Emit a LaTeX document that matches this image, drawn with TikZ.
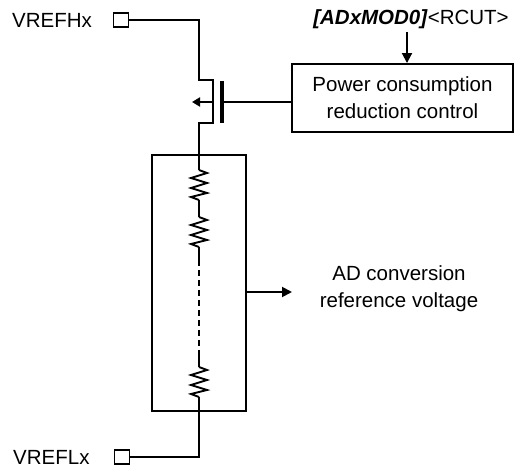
\documentclass[tikz,border=0pt]{standalone}
\usepackage{fontspec}
\setmainfont{Liberation Sans}
\usetikzlibrary{arrows.meta}
\begin{document}
\begin{tikzpicture}[x=1pt,y=-1pt,
  wire/.style={line width=1.9pt},
  lbl/.style={font=\fontsize{20.5}{27}\selectfont, inner sep=0pt, text=black},
  pad/.style={draw, line width=1.6pt, minimum width=15pt, minimum height=14pt, inner sep=0pt},
  blk/.style={draw, line width=1.9pt},
  arr/.style={-{Triangle[length=10pt,width=10pt]}, line width=1.9pt},
  res/.pic={\draw[line width=1.9pt, line join=miter] (0,0) -- (8,3) -- (-8,8) -- (8,13) -- (-8,18) -- (8,23) -- (-8,27) -- (0,30);}]
\useasboundingbox (0,0) rectangle (515,470);

% labels and pads
\node[lbl, anchor=west] (vh) at (12,20) {VREFHx};
\node[pad] (ph) at (121,20) {};
\node[lbl, anchor=west] (vl) at (13,457) {VREFLx};
\node[pad] (pl) at (122,457) {};

% control block
\node[blk, lbl, minimum width=221pt, minimum height=68pt, align=center] (pc) at (402.5,98) {Power consumption\\reduction control};
\node[lbl] (mod) at (411,19) {\textbf{\textit{[ADxMOD0]}}<RCUT>};
\coordinate (a0) at (407,32);
\draw[arr] (a0) -- (a0 |- pc.north);

% resistor ladder block
\node[blk, minimum width=94pt, minimum height=256pt, inner sep=0pt] (rb) at (199,283) {};
\node[lbl, align=center] (adc) at (399,289) {AD conversion\\reference voltage};
\coordinate (ao) at (292,292);
\draw[arr] (rb.east |- ao) -- (ao);

% MOSFET
\coordinate (d0) at (199,80);
\coordinate (d1) at (213,80);
\coordinate (s1) at (213,123);
\coordinate (s0) at (199,123);
\coordinate (ch) at (213,102);
\coordinate (bt) at (192,102);
\coordinate (g0) at (224,102);
\draw[wire] (ph.east) -| (d0) -- (d1) -- (s1) -- (s0) -- (199,170);
\draw[line width=3.4pt] (222,81) -- (222,123);
\draw[wire] (g0) -- (g0 -| pc.west);
\draw[-{Triangle[length=8pt,width=9pt]}, line width=1.9pt] (ch) -- (bt);

% resistors
\pic at (199,170) {res};
\draw[wire] (199,200) -- (199,217);
\pic at (199,217) {res};
\draw[wire] (199,247) -- (199,260);
\draw[wire, dash pattern=on 6pt off 4pt] (199,260) -- (199,352);
\draw[wire] (199,350) -- (199,367);
\pic at (199,367) {res};
\draw[wire] (199,397) |- (pl.east);
\end{tikzpicture}
\end{document}
